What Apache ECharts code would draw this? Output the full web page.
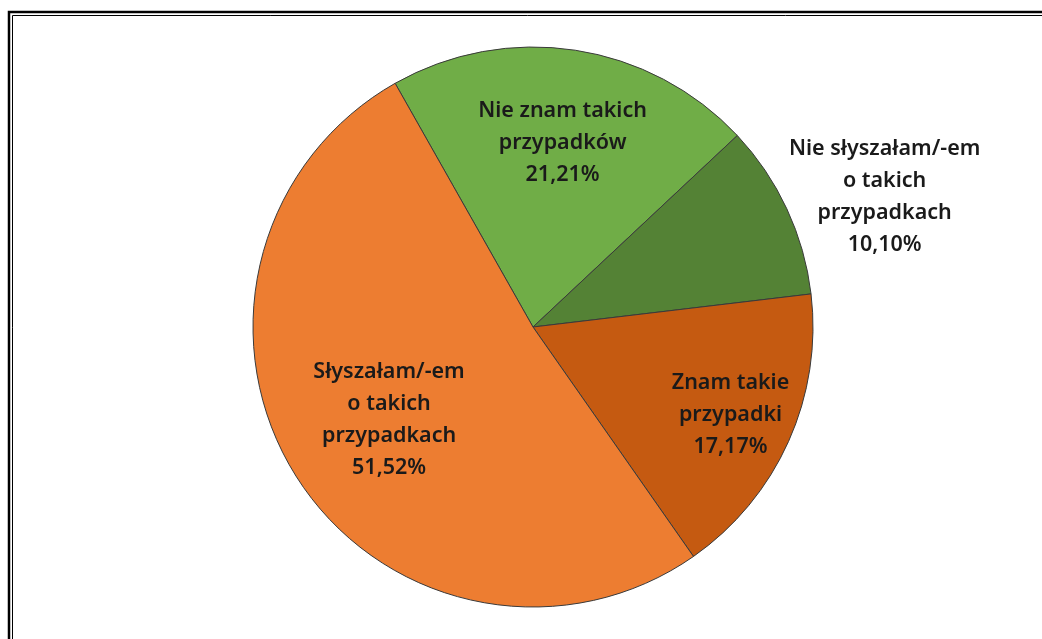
<!DOCTYPE html>
<html>
<head>
<meta charset="utf-8">
<script src="https://cdn.jsdelivr.net/npm/echarts@6/dist/echarts.min.js"></script>
<style>
html,body{margin:0;padding:0;background:#fff;}
#chart{width:1042px;height:639px;}
</style>
</head>
<body>
<div id="chart"></div>
<script>
const categories = ['Nie znam takich\nprzypadków', 'Nie słyszałam/-em\no takich\nprzypadkach', 'Znam takie\nprzypadki', 'Słyszałam/-em\no takich\nprzypadkach'];
const values = [21.21, 10.10, 17.17, 51.52];
const colors = ['#70AD47', '#548235', '#C55A11', '#ED7D31'];
const labelOffsets = [[8, -43], [222, -70], [67, 29], [-23, 17]];

const chart = echarts.init(document.getElementById('chart'));
const fmt = v => v.toFixed(2).replace('.', ',') + '%';
chart.setOption({
  animation: false,
  backgroundColor: '#fff',
  graphic: [
    { type: 'rect', shape: { x: 9, y: 12, width: 1200, height: 1000 }, style: { fill: 'none', stroke: '#000', lineWidth: 2.5 } },
    { type: 'rect', shape: { x: 12.5, y: 15.5, width: 1200, height: 1000 }, style: { fill: 'none', stroke: '#000', lineWidth: 1 } }
  ],
  series: [{
    type: 'pie',
    center: [533, 327],
    radius: 280,
    startAngle: 119.5,
    clockwise: true,
    avoidLabelOverlap: false,
    labelLine: { show: false },
    itemStyle: { borderColor: '#3a3a3a', borderWidth: 1 },
    label: {
      position: 'inner',
      fontFamily: 'Noto Sans',
      fontWeight: 600,
      fontSize: 21.5,
      lineHeight: 32,
      color: '#1a1a1a',
      align: 'center',
      formatter: p => p.name + '\n' + fmt(p.value)
    },
    data: categories.map((c, i) => ({
      name: c,
      value: values[i],
      itemStyle: { color: colors[i] },
      label: { offset: labelOffsets[i] }
    }))
  }]
});
</script>
</body>
</html>
